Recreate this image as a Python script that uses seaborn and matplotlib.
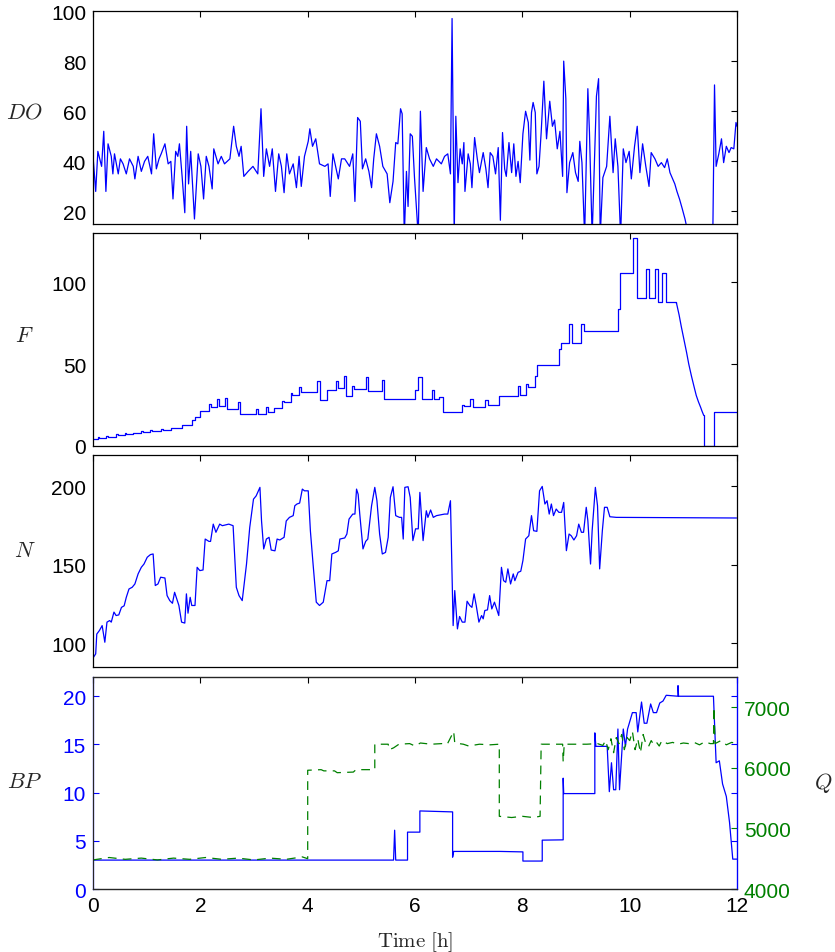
import matplotlib
matplotlib.use('Agg')
import matplotlib.pyplot as plt
import seaborn as sns

# Values (time in hours)
do_t = [0.00, 0.05, 0.09, 0.16, 0.20, 0.24, 0.28, 0.34, 0.37, 0.40, 0.47, 0.51, 0.56, 0.62, 0.68,
        0.75, 0.78, 0.84, 0.90, 0.96, 1.02, 1.09, 1.13, 1.18, 1.23, 1.27, 1.34, 1.40, 1.45, 1.49,
        1.54, 1.58, 1.61, 1.66, 1.71, 1.745, 1.78, 1.82, 1.89, 1.96, 2.01, 2.06, 2.11, 2.16, 2.22,
        2.25, 2.33, 2.39, 2.45, 2.55, 2.62, 2.67, 2.72, 2.76, 2.81, 2.89, 2.98, 3.07, 3.13, 3.18,
        3.23, 3.29, 3.34, 3.40, 3.46, 3.51, 3.56, 3.61, 3.66, 3.73, 3.79, 3.84, 3.88, 3.94, 4.01,
        4.04, 4.09, 4.15, 4.22, 4.32, 4.38, 4.42, 4.47, 4.57, 4.63, 4.69, 4.78, 4.84, 4.88, 4.93,
        4.98, 5.02, 5.08, 5.14, 5.19, 5.23, 5.28, 5.34, 5.40, 5.48, 5.53, 5.59, 5.64, 5.68, 5.73,
        5.76, 5.80, 5.84, 5.87, 5.91, 5.95, 5.99, 6.06, 6.10, 6.15, 6.21, 6.27, 6.34, 6.40, 6.49,
        6.55, 6.61, 6.66, 6.69, 6.73, 6.76, 6.80, 6.84, 6.88, 6.91, 6.93, 6.96, 6.99, 7.03, 7.06,
        7.11, 7.16, 7.20, 7.27, 7.32, 7.36, 7.40, 7.45, 7.50, 7.55, 7.59, 7.63, 7.67, 7.70, 7.75,
        7.80, 7.84, 7.88, 7.92, 7.96, 8.01, 8.06, 8.11, 8.14, 8.17, 8.20, 8.24, 8.27, 8.31, 8.35,
        8.40, 8.45, 8.51, 8.56, 8.60, 8.65, 8.70, 8.75, 8.77, 8.81, 8.83, 8.88, 8.94, 8.99, 9.04,
        9.07, 9.11, 9.16, 9.22, 9.25, 9.30, 9.38, 9.42, 9.45, 9.50, 9.57, 9.63, 9.69, 9.73, 9.78,
        9.83, 9.88, 9.93, 9.99, 10.03, 10.09, 10.14, 10.19, 10.24, 10.30, 10.36, 10.40, 10.47,
        10.53, 10.59, 10.65, 10.70, 10.75, 10.80, 10.84, 10.88, 10.93, 10.98, 11.03, 11.06, 11.12,
        11.49, 11.55, 11.58, 11.61, 11.66, 11.71, 11.75, 11.80, 11.85, 11.89, 11.94, 11.98, 12.00]
do_v = [42, 28, 44, 38, 52, 28, 47, 42, 35, 43, 35, 41, 39, 35, 41,
        38, 33, 42, 36, 40, 42, 35, 51, 37, 41, 43, 47, 39, 40, 25,
        44, 42, 47, 34, 19.5, 54, 31, 44, 17, 43, 38, 25, 42, 38, 29,
        45, 39, 42, 39, 41, 54, 46, 42, 46, 34, 36, 38, 35, 61, 34,
        45, 38, 45, 28, 43, 38, 27.5, 43, 35, 39, 29.5, 42, 30, 42, 48,
        53, 46, 49, 39, 38, 39, 26, 43, 33, 41, 41, 38, 43, 24, 57.5,
        56, 37, 41, 36, 29.5, 41, 51, 46, 38, 35, 23.5, 32, 47.5, 47, 61,
        59, 10, 36, 22, 51, 50, 33.5, 10, 60, 28, 45.5, 41, 38, 41, 39,
        42, 43, 35, 97, 10, 58, 31.5, 45, 39, 47.5, 28, 35.5, 43, 39, 29.5,
        49.5, 41, 35.5, 43.5, 37, 29.5, 43.5, 42, 35, 45.5, 16.5, 51.5, 37, 34, 47.5,
        35.5, 47, 34, 40, 31.5, 51, 60, 55.5, 40.5, 59.5, 63.5, 59.5, 35, 38, 51.5,
        72, 49, 64, 54, 56.5, 45, 52, 34, 80, 65, 27.5, 39.5, 43.5, 35.5, 32,
        48, 39.5, 10, 69, 51.5, 10, 66, 73, 10, 33.5, 38, 58, 35.5, 49, 38,
        10, 45, 39.5, 44, 33, 46, 54, 35.5, 47, 38, 30, 43.5, 41,
        38, 39.5, 37.5, 41, 35.5, 33, 31, 28, 24.8, 21, 17, 14, 5,
        5, 14, 70.5, 38, 43, 49, 39.5, 46, 43.5, 45.5, 45, 55.5, 54]

# feed rate: step changes, then a smooth ramp down, then steps again
f_t = [0.00, 0.09, 0.12, 0.25, 0.28, 0.43, 0.46, 0.59, 0.62, 0.75, 0.78, 0.90, 0.93, 1.06, 1.09,
       1.27, 1.30, 1.46, 1.65, 1.84, 1.90, 2.00, 2.16, 2.20, 2.31, 2.35, 2.45, 2.49, 2.70, 2.74,
       3.04, 3.08, 3.22, 3.26, 3.37, 3.53, 3.56, 3.68, 3.71, 3.83, 3.87, 4.18, 4.22, 4.36, 4.52,
       4.57, 4.67, 4.71, 4.83, 4.87, 5.08, 5.12, 5.39, 5.43, 5.99, 6.05, 6.13, 6.32, 6.36, 6.45,
       6.52, 6.88, 6.92, 7.03, 7.08, 7.31, 7.36, 7.57, 7.92, 7.96, 8.07, 8.11, 8.23, 8.27, 8.68,
       8.72, 8.86, 8.92, 9.10, 9.14, 9.78, 9.82, 10.06, 10.13, 10.30, 10.36, 10.47, 10.52, 10.61,
       10.67, 10.87]
f_v = [4.4, 5.5, 4.8, 6.0, 5.5, 7.0, 6.5, 7.7, 7.2, 8.2, 7.8, 9.0, 8.6, 9.5, 9.0,
       10.5, 10.0, 11.0, 13.0, 15.6, 17.6, 21.3, 25.7, 24.0, 28.7, 24.5, 29.0, 22.5, 26.7, 19.2,
       22.7, 19.6, 23.5, 20.6, 23.3, 27.7, 26.7, 32.2, 30.8, 35.8, 33.2, 39.9, 28.3, 34.2, 39.7,
       35.4, 42.9, 30.4, 36.4, 34.8, 41.9, 33.8, 40.5, 28.7, 34.4, 42.3, 28.7, 34.4, 28.7, 29.8,
       21.0, 25.0, 24.1, 28.7, 23.7, 28.3, 25.0, 30.4, 36.4, 31.4, 37.7, 35.8, 42.9, 49.4, 59.1,
       62.6, 74.7, 62.6, 74.7, 70.2, 83.8, 105.7, 126.9, 90.0, 108.0, 90.0, 108.0, 87.8, 105.3,
       87.8, 87.4]
f_ramp_t = [10.87, 10.92, 10.96, 11.01, 11.06, 11.10, 11.15, 11.20, 11.24, 11.28, 11.32, 11.35, 11.38]
f_ramp_v = [87.4, 80.0, 73.0, 65.0, 57.0, 50.0, 42.7, 36.0, 30.8, 27.0, 23.7, 21.0, 18.6]
f_end_t = [11.38, 11.39, 11.57, 12.00]
f_end_v = [18.6, 0.0, 20.6, 20.6]

n_t = [0.01, 0.05, 0.07, 0.12, 0.17, 0.22, 0.26, 0.31, 0.34, 0.39, 0.43, 0.48, 0.53, 0.58, 0.62,
       0.67, 0.73, 0.78, 0.84, 0.90, 0.95, 1.01, 1.07, 1.12, 1.16, 1.21, 1.26, 1.34, 1.38, 1.43,
       1.48, 1.52, 1.57, 1.60, 1.65, 1.71, 1.74, 1.77, 1.81, 1.84, 1.90, 1.94, 1.99, 2.05, 2.09,
       2.16, 2.19, 2.24, 2.29, 2.36, 2.41, 2.53, 2.61, 2.67, 2.72, 2.78, 2.86, 2.92, 2.99, 3.04,
       3.11, 3.14, 3.18, 3.23, 3.28, 3.32, 3.39, 3.43, 3.48, 3.56, 3.60, 3.66, 3.73, 3.76, 3.80,
       3.85, 3.90, 3.94, 4.01, 4.05, 4.10, 4.16, 4.22, 4.29, 4.36, 4.41, 4.45, 4.52, 4.57, 4.60,
       4.69, 4.73, 4.77, 4.84, 4.88, 4.91, 4.94, 4.97, 5.03, 5.08, 5.12, 5.19, 5.25, 5.29, 5.34,
       5.39, 5.45, 5.50, 5.54, 5.59, 5.64, 5.71, 5.75, 5.78, 5.81, 5.87, 5.91, 5.96, 6.01, 6.06,
       6.09, 6.15, 6.21, 6.24, 6.29, 6.34, 6.40, 6.55, 6.61, 6.66, 6.71, 6.74, 6.79, 6.83, 6.88,
       6.93, 6.97, 7.02, 7.06, 7.10, 7.14, 7.19, 7.24, 7.27, 7.30, 7.35, 7.39, 7.43, 7.48, 7.56,
       7.61, 7.65, 7.69, 7.73, 7.78, 7.83, 7.86, 7.92, 7.97, 8.01, 8.06, 8.12, 8.17, 8.21, 8.27,
       8.32, 8.37, 8.42, 8.46, 8.50, 8.54, 8.58, 8.63, 8.68, 8.73, 8.77, 8.82, 8.87, 8.91, 8.96,
       9.01, 9.05, 9.10, 9.14, 9.19, 9.22, 9.27, 9.30, 9.36, 9.40, 9.44, 9.49, 9.53, 9.58, 9.63,
       9.75, 11.99]
n_v = [91.3, 93.4, 106, 108.3, 111.4, 100.8, 113.6, 114.6, 113.6, 120, 117.8, 118.2, 123, 124, 129.4,
       134.7, 135.8, 137.9, 144.3, 148.5, 150.6, 154.9, 156.6, 157, 136.9, 137.9, 142.2, 141.7, 130.5, 127.3,
       125.6, 132.6, 127.3, 124.2, 113.6, 113, 131.6, 119.3, 129.4, 124.2, 124.2, 148.5, 146.4, 146.8, 166.5,
       165, 165, 176, 170.8, 176, 175, 176, 175, 135.8, 130.5, 127.3, 150.6, 173.9, 191.9, 194,
       199.4, 178, 160.2, 166.5, 167.6, 159.5, 159, 166.5, 165.9, 167.6, 178, 180.3, 181.4, 187.7, 188.8,
       189.4, 198.3, 197.2, 197.2, 171.8, 150.6, 126.3, 124.2, 126.3, 140, 140, 157, 158, 159, 166.5,
       167.2, 169.7, 179.2, 182.4, 182.4, 198.3, 195, 182.4, 160.2, 165, 166.5, 187.7, 199.4, 190.9, 169.7,
       157, 158, 167.6, 193, 199.8, 181.4, 180.3, 180.3, 166.5, 199.4, 199.8, 193, 165.5, 173, 173,
       196.2, 165.5, 184.5, 180.3, 185, 180.3, 181.4, 182.4, 182.4, 190.9, 111.4, 133.7, 109.3, 117.2, 113.6,
       113.6, 126.9, 124.2, 123, 131.6, 124.2, 113.6, 117.8, 115.7, 121, 121.4, 130.5, 122, 126.3, 117.8,
       148.5, 140, 139, 147.5, 137.9, 144.3, 140, 145.3, 146, 152.8, 166.5, 168.6, 181.4, 171.8, 171.4,
       197.2, 200, 188.8, 190.9, 182.4, 188.8, 181.4, 185.6, 183.5, 183.5, 189.8, 159.1, 169.7, 168.6, 165.9,
       168.6, 176, 170.8, 170.8, 186.7, 178.2, 150.6, 171.8, 199.4, 187.7, 147.5, 171.8, 186.7, 186.7, 180.7,
       180.3, 179.9]

bp_t = [0.00, 5.60, 5.62, 5.64, 5.86, 5.86, 6.09, 6.09, 6.70, 6.70, 6.72, 7.58, 8.01, 8.01, 8.37,
        8.37, 8.76, 8.76, 8.77, 9.35, 9.35, 9.37, 9.58, 9.62, 9.66, 9.70, 9.74, 9.78, 9.81, 9.88,
        9.92, 9.96, 10.05, 10.12, 10.15, 10.22, 10.27, 10.32, 10.39, 10.44, 10.50, 10.56, 10.62,
        10.68, 10.90, 10.90, 10.91, 11.56, 11.61, 11.67, 11.73, 11.80, 11.86, 11.92, 12.00]
bp_v = [3.0, 3.0, 6.1, 3.0, 3.0, 5.9, 5.9, 8.1, 8.0, 3.3, 3.9, 3.9, 3.85, 2.9, 2.9,
        5.07, 5.1, 11.5, 9.9, 9.9, 16.2, 14.8, 14.8, 10.1, 13.1, 10.3, 10.3, 16.6, 10.3, 16.6,
        14.8, 16.6, 18.3, 18.3, 16.3, 19.4, 17.2, 17.2, 19.2, 18.3, 18.3, 19.3, 19.5,
        20.1, 20.0, 21.1, 20.0, 20.0, 13.1, 13.3, 10.9, 9.6, 6.9, 3.1, 3.1]

q_t = [0.0, 0.3, 0.6, 0.9, 1.2, 1.5, 1.8, 2.1, 2.4, 2.7, 3.0, 3.3, 3.6, 3.9, 4.0,
       4.0, 4.25, 4.3, 4.5, 4.55, 4.85, 4.9, 5.25, 5.25, 5.5, 5.52, 5.6, 5.7, 5.9, 6.0,
       6.1, 6.3, 6.5, 6.6, 6.72, 6.74, 6.9, 7.0, 7.2, 7.4, 7.57, 7.57, 7.8, 8.0, 8.2,
       8.33, 8.35, 8.6, 8.75, 8.76, 8.78, 9.2, 9.4, 9.5, 9.55, 9.6, 9.65, 9.7, 9.75, 9.8,
       9.85, 9.9, 9.95, 10.0, 10.05, 10.1, 10.15, 10.2, 10.25, 10.3, 10.35, 10.4, 10.45, 10.5,
       10.55, 10.6, 10.7, 10.8, 10.9, 11.0, 11.1, 11.2, 11.3, 11.4, 11.5, 11.56, 11.57, 11.59,
       11.7, 11.8, 11.9, 12.0]
q_v = [4480, 4520, 4490, 4510, 4480, 4510, 4490, 4520, 4490, 4510, 4480, 4510, 4490, 4530, 4500,
       5960, 5970, 5950, 5950, 5920, 5930, 5970, 5970, 6390, 6390, 6300, 6330, 6390, 6400, 6360,
       6410, 6390, 6400, 6390, 6600, 6410, 6390, 6360, 6390, 6380, 6390, 5200, 5180, 5200, 5180,
       5200, 6390, 6390, 6390, 6100, 6390, 6390, 6400, 6370, 6450, 6300, 6480, 6250, 6500, 6400,
       6550, 6300, 6500, 6450, 6600, 6300, 6480, 6250, 6550, 6400, 6350, 6450, 6380, 6420,
       6360, 6450, 6400, 6420, 6390, 6410, 6400, 6420, 6380, 6430, 6400, 6400, 7000, 6400,
       6450, 6380, 6420, 6400]

BLUE = (0, 0, 1)
GREEN = (0, 0.5, 0)

sns.set_style('white')
plt.rcParams['font.family'] = ['Liberation Sans', 'DejaVu Sans']
plt.rcParams['mathtext.fontset'] = 'cm'

fig = plt.figure(figsize=(8.35, 9.53), dpi=100)
L, W = 0.1114, 0.7713
ax1 = fig.add_axes([L, 0.7639, W, 0.2235])
ax2 = fig.add_axes([L, 0.5310, W, 0.2235])
ax3 = fig.add_axes([L, 0.2990, W, 0.2225])
ax4 = fig.add_axes([L, 0.0661, W, 0.2225])

lw = 0.9
sns.lineplot(x=do_t, y=do_v, ax=ax1, color=BLUE, lw=lw, estimator=None, sort=False)
sns.lineplot(x=f_t, y=f_v, ax=ax2, color=BLUE, lw=lw, estimator=None, sort=False,
             drawstyle='steps-post')
sns.lineplot(x=f_ramp_t, y=f_ramp_v, ax=ax2, color=BLUE, lw=lw, estimator=None, sort=False)
sns.lineplot(x=f_end_t, y=f_end_v, ax=ax2, color=BLUE, lw=lw, estimator=None, sort=False,
             drawstyle='steps-post')
sns.lineplot(x=n_t, y=n_v, ax=ax3, color=BLUE, lw=lw, estimator=None, sort=False)
sns.lineplot(x=bp_t, y=bp_v, ax=ax4, color=BLUE, lw=lw, estimator=None, sort=False)

ax4b = ax4.twinx()
sns.lineplot(x=q_t, y=q_v, ax=ax4b, color=GREEN, lw=lw, estimator=None, sort=False)
ax4b.lines[0].set_dashes((7, 5))

ax1.set_ylim(15, 100)
ax1.set_yticks([20, 40, 60, 80, 100])
ax2.set_ylim(0, 130)
ax2.set_yticks([0, 50, 100])
ax3.set_ylim(85, 220)
ax3.set_yticks([100, 150, 200])
ax4.set_ylim(0, 22)
ax4.set_yticks([0, 5, 10, 15, 20])
ax4b.set_ylim(4000, 7500)
ax4b.set_yticks([4000, 5000, 6000, 7000])

labels = [(ax1, r'$DO$', 0.526), (ax2, r'$F$', 0.52), (ax3, r'$N$', 0.55), (ax4, r'$BP$', 0.505)]
for ax, lab, ypos in labels:
    ax.set_xlim(0, 12)
    ax.set_xticks(range(0, 13, 2))
    ax.tick_params(direction='in', length=4.5, width=0.8, top=True, right=True,
                   labelsize=15, pad=5, colors='black')
    for s in ax.spines.values():
        s.set_linewidth(0.9)
        s.set_color('black')
    ax.set_ylabel(lab, rotation=0, fontsize=16, ha='center', va='center')
    ax.yaxis.set_label_coords(-0.106, ypos)
    if ax is not ax4:
        ax.set_xticklabels([])
    ax.set_xlabel('')

ax4.tick_params(axis='y', colors=BLUE)
ax4.spines['left'].set_color(BLUE)
ax4.spines['right'].set_color(BLUE)
ax4b.tick_params(axis='y', direction='in', length=4.5, width=0.8, colors=GREEN,
                 labelsize=15, pad=5)
ax4b.spines['right'].set_color(BLUE)
ax4b.set_ylabel(r'$Q$', rotation=0, fontsize=16, ha='center', va='center')
ax4b.yaxis.set_label_coords(1.134, 0.505)

ax4.set_xlabel(r'$\mathrm{Time\ [h]}$', fontsize=15, labelpad=10)

plt.savefig('out.png', dpi=100)
plt.close()
